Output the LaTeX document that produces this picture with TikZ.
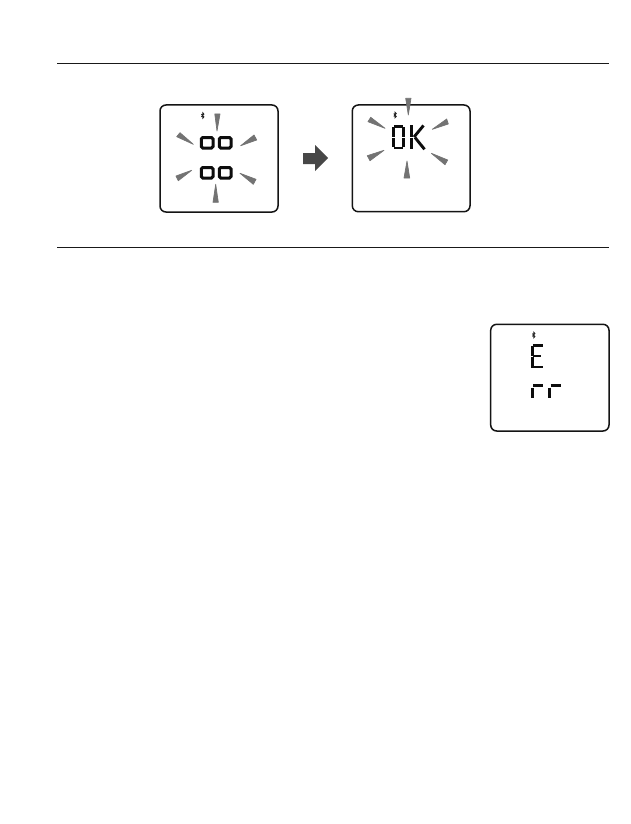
\documentclass[tikz,border=0pt]{standalone}
\tikzset{
  lcdbox/.style={draw=black!92,line width=1.5pt,rounded corners=6pt},
  rule/.style={draw=black!90,line width=0.85pt},
  ray/.style={fill=black!55,draw=black!55,line width=0.7pt,line join=round},
  seg/.style={draw=black!95,line width=2.9pt,line cap=butt},
  smallseg/.style={draw=black!95,line width=3pt,rounded corners=1.5pt},
  btg/.style={draw=black!85,line width=0.8pt},
}
\newcommand{\btmark}[2]{%
  \draw[btg] (#1-1.3,#2-1.4)--(#1+1.3,#2+1.4)--(#1,#2+2.8)--(#1,#2-2.8)--(#1+1.3,#2-1.4)--(#1-1.3,#2+1.4);}
\newcommand{\ooseg}[4]{\draw[smallseg] (#1,#2) rectangle (#3,#4);}
\begin{document}
\begin{tikzpicture}[x=1pt,y=-1pt]
\useasboundingbox (0,0) rectangle (630,824);
\fill[white] (0,0) rectangle (630,824);
% rules
\draw[rule] (57,63.5)--(609,63.5);
\draw[rule] (57,247)--(609,247);
% first display
\draw[lcdbox] (160,105) rectangle (278,212);
\btmark{202.7}{115.5}
\ooseg{201.3}{137.5}{213}{148}
\ooseg{219.3}{137.5}{231}{148}
\ooseg{201.3}{167.5}{213}{178}
\ooseg{219.3}{167.5}{231}{178}
\fill[ray] (214.8,114)--(220,114)--(217,131)--cycle;
\fill[ray] (176.7,136.7)--(180,132.7)--(193.3,144.3)--cycle;
\fill[ray] (256.7,140)--(254,135)--(240.7,145.7)--cycle;
\fill[ray] (176,176)--(178.3,180.7)--(191.7,170.3)--cycle;
\fill[ray] (256,179.3)--(253.3,184.3)--(240,173.3)--cycle;
\fill[ray] (213,202.3)--(218.3,202.3)--(215.7,184.3)--cycle;
% arrow
\fill[black!72] (303,153)--(315,153)--(315,145)--(328,158)--(315,171)--(315,164)--(303,164)--cycle;
% second display
\draw[lcdbox] (352.3,105) rectangle (470,211.7);
\btmark{395}{115}
% O
\draw[seg] (393.8,126.5)--(403.2,126.5);
\draw[seg] (393.2,127.5)--(393.2,136.6);
\draw[seg] (403.9,127.5)--(403.9,136.6);
\draw[seg] (393.2,137.8)--(393.2,147.2);
\draw[seg] (403.9,137.8)--(403.9,147.2);
\draw[seg] (393.8,148)--(403.2,148);
% K
\draw[seg] (411.4,125.5)--(411.4,136.6);
\draw[seg] (411.4,137.8)--(411.4,149.3);
\draw[seg] (414,137)--(423.5,125.5);
\draw[seg] (415,137.5)--(424.5,149.3);
\fill[ray] (405.7,98.3)--(411,98.3)--(408.3,115)--cycle;
\fill[ray] (368,121.7)--(370.7,117.3)--(385,128.3)--cycle;
\fill[ray] (448.3,124)--(446.7,119)--(432.3,129.3)--cycle;
\fill[ray] (367.3,155.7)--(370,160.7)--(384,150.3)--cycle;
\fill[ray] (447.7,160)--(445,164.7)--(431.3,153.3)--cycle;
\fill[ray] (404,178)--(409.7,178)--(407,161)--cycle;
% third display
\draw[lcdbox] (490.7,324.3) rectangle (609,431);
\btmark{533.7}{335}
% E
\draw[seg] (532.8,345.4)--(542.5,345.4);
\draw[seg] (532.4,345.5)--(532.4,355.5);
\draw[seg] (532.8,356)--(541.3,356);
\draw[seg] (532.4,356.8)--(532.4,368.4);
\draw[seg] (532.8,367)--(542.7,367);
% rr
\draw[seg] (532.5,387.5)--(532.5,397.7);
\draw[seg] (533.3,385.7)--(543.3,385.7);
\draw[seg] (549.8,387.5)--(549.8,397.7);
\draw[seg] (550.6,385.7)--(561,385.7);
\end{tikzpicture}
\end{document}
